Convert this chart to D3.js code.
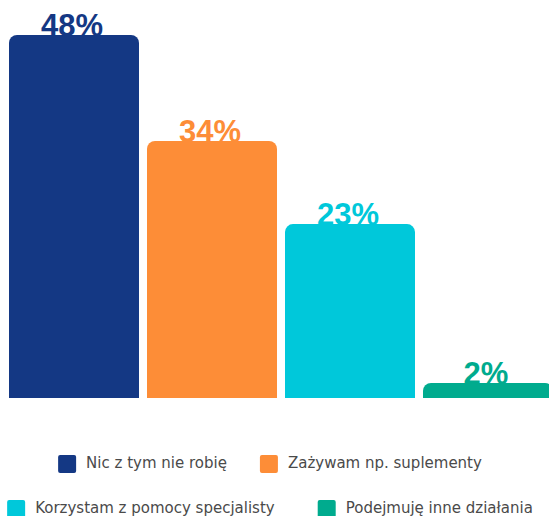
<!DOCTYPE html>
<html>
<head>
<meta charset="utf-8">
<script src="https://cdn.jsdelivr.net/npm/d3@7"></script>
<style>
  html, body { margin: 0; padding: 0; background: #fff; }
  svg { display: block; }
</style>
</head>
<body>
<div id="chart"></div>
<script>
// Survey answers and their shares (%)
const categories = [
  "Nic z tym nie robię",
  "Zażywam np. suplementy",
  "Korzystam z pomocy specjalisty",
  "Podejmuję inne działania"
];
const values = [48, 34, 23, 2];
const colors = ["#143884", "#fd8d37", "#00c8da", "#00ab8e"];
const legendRows = [[0, 1], [2, 3]];

const W = 549, H = 516;
const svg = d3.select("#chart").append("svg")
  .attr("width", W).attr("height", H)
  .attr("viewBox", `0 0 ${W} ${H}`);

const x = d3.scaleBand()
  .domain(categories)
  .range([5, 557])
  .paddingInner(8 / 138)
  .paddingOuter(4 / 138);

const y = d3.scaleLinear()
  .domain([0, d3.max(values)])
  .range([398, 35]);

const color = d3.scaleOrdinal().domain(categories).range(colors);

// Bar shape with rounded top corners only
function topRounded(x0, y0, w, h, r) {
  r = Math.min(r, h, w / 2);
  const p = d3.path();
  p.moveTo(x0, y0 + h);
  p.lineTo(x0, y0 + r);
  p.arcTo(x0, y0, x0 + r, y0, r);
  p.lineTo(x0 + w - r, y0);
  p.arcTo(x0 + w, y0, x0 + w, y0 + r, r);
  p.lineTo(x0 + w, y0 + h);
  p.closePath();
  return p.toString();
}

const data = categories.map((c, i) => ({ c, v: values[i] }));

svg.append("g").selectAll("path")
  .data(data)
  .join("path")
  .attr("d", d => topRounded(x(d.c), y(d.v), x.bandwidth(), y(0) - y(d.v), 8))
  .attr("fill", d => color(d.c));

svg.append("g").selectAll("text")
  .data(data)
  .join("text")
  .attr("x", d => x(d.c) + x.bandwidth() / 2 - 2)
  .attr("y", d => y(d.v) + 1)
  .attr("text-anchor", "middle")
  .attr("font-family", "'Liberation Sans', Arial, sans-serif")
  .attr("font-weight", "bold")
  .attr("font-size", 31)
  .attr("fill", d => color(d.c))
  .text(d => d.v + "%");

// Legend: two rows, each centred
const legend = svg.append("g")
  .attr("font-family", "'DejaVu Sans', sans-serif")
  .attr("font-size", 15)
  .attr("fill", "#4a4a4a");

const sq = 18, sqGap = 10, rowGaps = [33, 43], cx = 270;
legendRows.forEach((row, ri) => {
  const rowY = 455 + ri * 45;
  const g = legend.append("g");
  const items = row.map(i => {
    const ig = g.append("g");
    ig.append("rect")
      .attr("width", sq).attr("height", sq)
      .attr("rx", 2)
      .attr("y", rowY)
      .attr("fill", colors[i]);
    const t = ig.append("text")
      .attr("x", sq + sqGap)
      .attr("y", rowY + 13)
      .text(categories[i]);
    return { ig, w: sq + sqGap + t.node().getComputedTextLength() };
  });
  const gap = rowGaps[ri];
  const total = d3.sum(items, d => d.w) + gap * (items.length - 1);
  let cur = cx - total / 2;
  items.forEach(it => {
    it.ig.attr("transform", `translate(${cur},0)`);
    cur += it.w + gap;
  });
});
</script>
</body>
</html>
